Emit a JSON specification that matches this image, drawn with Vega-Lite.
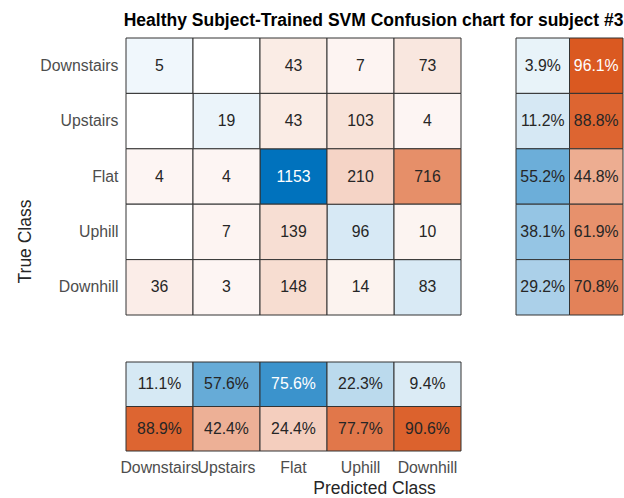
{
  "$schema": "https://vega.github.io/schema/vega-lite/v6.json",
  "padding": {"left": 16, "top": 12, "right": 5, "bottom": 0},
  "title": {"text": "Healthy Subject-Trained SVM Confusion chart for subject #3", "anchor": "end", "font": "Liberation Sans", "fontSize": 17.5, "fontWeight": "bold", "color": "#000000", "offset": 8},
  "config": {
    "view": {"stroke": null},
    "font": "Liberation Sans",
    "axis": {"labelFont": "Liberation Sans", "titleFont": "Liberation Sans", "labelFontSize": 15.8, "titleFontSize": 17.5, "labelColor": "#4d4d4d", "titleColor": "#262626", "titleFontWeight": "normal", "ticks": false, "domain": false, "grid": false}
  },
  "datasets": {
    "main": [
      {"t": "Downstairs", "p": "Downstairs", "n": 5},
      {"t": "Downstairs", "p": "Upstairs", "n": 0},
      {"t": "Downstairs", "p": "Flat", "n": 43},
      {"t": "Downstairs", "p": "Uphill", "n": 7},
      {"t": "Downstairs", "p": "Downhill", "n": 73},
      {"t": "Upstairs", "p": "Downstairs", "n": 0},
      {"t": "Upstairs", "p": "Upstairs", "n": 19},
      {"t": "Upstairs", "p": "Flat", "n": 43},
      {"t": "Upstairs", "p": "Uphill", "n": 103},
      {"t": "Upstairs", "p": "Downhill", "n": 4},
      {"t": "Flat", "p": "Downstairs", "n": 4},
      {"t": "Flat", "p": "Upstairs", "n": 4},
      {"t": "Flat", "p": "Flat", "n": 1153},
      {"t": "Flat", "p": "Uphill", "n": 210},
      {"t": "Flat", "p": "Downhill", "n": 716},
      {"t": "Uphill", "p": "Downstairs", "n": 0},
      {"t": "Uphill", "p": "Upstairs", "n": 7},
      {"t": "Uphill", "p": "Flat", "n": 139},
      {"t": "Uphill", "p": "Uphill", "n": 96},
      {"t": "Uphill", "p": "Downhill", "n": 10},
      {"t": "Downhill", "p": "Downstairs", "n": 36},
      {"t": "Downhill", "p": "Upstairs", "n": 3},
      {"t": "Downhill", "p": "Flat", "n": 148},
      {"t": "Downhill", "p": "Uphill", "n": 14},
      {"t": "Downhill", "p": "Downhill", "n": 83}
    ],
    "rowsum": [
      {"t": "Downstairs", "k": "correct", "f": 0.039},
      {"t": "Downstairs", "k": "incorrect", "f": 0.961},
      {"t": "Upstairs", "k": "correct", "f": 0.112},
      {"t": "Upstairs", "k": "incorrect", "f": 0.888},
      {"t": "Flat", "k": "correct", "f": 0.552},
      {"t": "Flat", "k": "incorrect", "f": 0.448},
      {"t": "Uphill", "k": "correct", "f": 0.381},
      {"t": "Uphill", "k": "incorrect", "f": 0.619},
      {"t": "Downhill", "k": "correct", "f": 0.292},
      {"t": "Downhill", "k": "incorrect", "f": 0.708}
    ],
    "colsum": [
      {"p": "Downstairs", "k": "correct", "f": 0.111},
      {"p": "Downstairs", "k": "incorrect", "f": 0.889},
      {"p": "Upstairs", "k": "correct", "f": 0.576},
      {"p": "Upstairs", "k": "incorrect", "f": 0.424},
      {"p": "Flat", "k": "correct", "f": 0.756},
      {"p": "Flat", "k": "incorrect", "f": 0.244},
      {"p": "Uphill", "k": "correct", "f": 0.223},
      {"p": "Uphill", "k": "incorrect", "f": 0.777},
      {"p": "Downhill", "k": "correct", "f": 0.094},
      {"p": "Downhill", "k": "incorrect", "f": 0.906}
    ]
  },
  "columns": 2,
  "align": "each",
  "spacing": {"row": 45, "column": 53},
  "concat": [
    {
      "width": 335, "height": 277,
      "data": {"name": "main"},
      "encoding": {
        "x": {"field": "p", "type": "nominal", "scale": {"domain": ["Downstairs", "Upstairs", "Flat", "Uphill", "Downhill"], "paddingInner": 0, "paddingOuter": 0}, "axis": null},
        "y": {"field": "t", "type": "nominal", "scale": {"domain": ["Downstairs", "Upstairs", "Flat", "Uphill", "Downhill"], "paddingInner": 0, "paddingOuter": 0}, "axis": {"title": "True Class", "titleY": 203, "labelPadding": 8, "titlePadding": 5}}
      },
      "layer": [
        {
          "transform": [{"filter": "datum.t === datum.p"}],
          "mark": {"type": "rect", "stroke": "#333333", "strokeWidth": 1},
          "encoding": {"color": {"field": "n", "type": "quantitative", "scale": {"domain": [0, 50, 1153], "range": ["#f2f8fc", "#e0eef7", "#0072bd"], "interpolate": "rgb"}, "legend": null}}
        },
        {
          "transform": [{"filter": "datum.t !== datum.p"}],
          "mark": {"type": "rect", "stroke": "#333333", "strokeWidth": 1},
          "encoding": {"color": {"condition": {"test": "datum.n === 0", "value": "#ffffff"}, "field": "n", "type": "quantitative", "scale": {"domain": [0, 50, 1153], "range": ["#fdf6f4", "#faeae3", "#d95319"], "interpolate": "rgb"}, "legend": null}}
        },
        {
          "transform": [{"filter": "datum.n > 0"}],
          "mark": {"type": "text", "fontSize": 15.8, "font": "Liberation Sans"},
          "encoding": {
            "text": {"field": "n", "type": "quantitative", "format": "d"},
            "color": {"condition": {"test": "datum.n > 900", "value": "#ffffff"}, "value": "#262626"}
          }
        }
      ],
      "resolve": {"scale": {"color": "independent"}}
    },
    {
      "width": 107, "height": 277,
      "data": {"name": "rowsum"},
      "encoding": {
        "x": {"field": "k", "type": "nominal", "scale": {"domain": ["correct", "incorrect"], "paddingInner": 0, "paddingOuter": 0}, "axis": null},
        "y": {"field": "t", "type": "nominal", "scale": {"domain": ["Downstairs", "Upstairs", "Flat", "Uphill", "Downhill"], "paddingInner": 0, "paddingOuter": 0}, "axis": null}
      },
      "layer": [
        {
          "transform": [{"filter": "datum.k === 'correct'"}],
          "mark": {"type": "rect", "stroke": "#333333", "strokeWidth": 1},
          "encoding": {"color": {"field": "f", "type": "quantitative", "scale": {"domain": [0, 0.1, 1], "range": ["#f2f8fc", "#d9eaf5", "#0072bd"], "interpolate": "rgb"}, "legend": null}}
        },
        {
          "transform": [{"filter": "datum.k === 'incorrect'"}],
          "mark": {"type": "rect", "stroke": "#333333", "strokeWidth": 1},
          "encoding": {"color": {"field": "f", "type": "quantitative", "scale": {"domain": [0, 0.1, 1], "range": ["#fdf6f4", "#f9e5dd", "#d95319"], "interpolate": "rgb"}, "legend": null}}
        },
        {
          "mark": {"type": "text", "fontSize": 15.8, "font": "Liberation Sans"},
          "encoding": {
            "text": {"field": "f", "type": "quantitative", "format": ".1%"},
            "color": {"condition": {"test": "(datum.k === 'correct' && datum.f > 0.65) || (datum.k === 'incorrect' && datum.f > 0.93)", "value": "#ffffff"}, "value": "#262626"}
          }
        }
      ],
      "resolve": {"scale": {"color": "independent"}}
    },
    {
      "width": 335, "height": 89,
      "data": {"name": "colsum"},
      "encoding": {
        "x": {"field": "p", "type": "nominal", "scale": {"domain": ["Downstairs", "Upstairs", "Flat", "Uphill", "Downhill"], "paddingInner": 0, "paddingOuter": 0}, "axis": {"orient": "bottom", "title": "Predicted Class", "titleX": 248, "labelAngle": 0, "labelOverlap": false, "labelPadding": 9, "titlePadding": 5}},
        "y": {"field": "k", "type": "nominal", "scale": {"domain": ["correct", "incorrect"], "paddingInner": 0, "paddingOuter": 0}, "axis": null}
      },
      "layer": [
        {
          "transform": [{"filter": "datum.k === 'correct'"}],
          "mark": {"type": "rect", "stroke": "#333333", "strokeWidth": 1},
          "encoding": {"color": {"field": "f", "type": "quantitative", "scale": {"domain": [0, 0.1, 1], "range": ["#f2f8fc", "#d9eaf5", "#0072bd"], "interpolate": "rgb"}, "legend": null}}
        },
        {
          "transform": [{"filter": "datum.k === 'incorrect'"}],
          "mark": {"type": "rect", "stroke": "#333333", "strokeWidth": 1},
          "encoding": {"color": {"field": "f", "type": "quantitative", "scale": {"domain": [0, 0.1, 1], "range": ["#fdf6f4", "#f9e5dd", "#d95319"], "interpolate": "rgb"}, "legend": null}}
        },
        {
          "mark": {"type": "text", "fontSize": 15.8, "font": "Liberation Sans"},
          "encoding": {
            "text": {"field": "f", "type": "quantitative", "format": ".1%"},
            "color": {"condition": {"test": "(datum.k === 'correct' && datum.f > 0.65) || (datum.k === 'incorrect' && datum.f > 0.93)", "value": "#ffffff"}, "value": "#262626"}
          }
        }
      ],
      "resolve": {"scale": {"color": "independent"}}
    }
  ]
}
